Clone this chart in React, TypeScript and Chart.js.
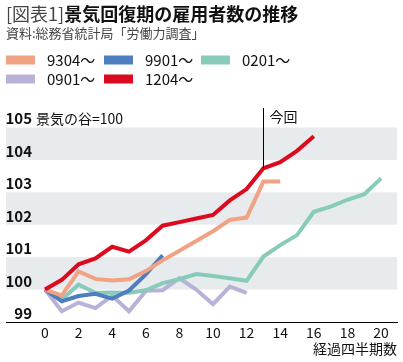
import React, { useEffect, useRef } from "react";
import { Chart, registerables } from "chart.js";

Chart.register(...registerables);

const seriesNames = ["9304〜", "9901〜", "0201〜", "0901〜", "1204〜"];
const seriesColors = ["#F0A282", "#4F7EC0", "#88CBBB", "#B8B2D8", "#DC0A1E"];

const s9304 = [100, 99.82, 100.56, 100.33, 100.28, 100.32, 100.57, 100.9, 101.2, 101.5, 101.8, 102.15, 102.22, 103.33, 103.33];
const s9901 = [100, 99.64, 99.8, 99.87, 99.72, 99.97, 100.47, 101.06];
const s0201 = [100, 99.7, 100.15, 99.9, 99.91, 99.9, 99.98, 100.2, 100.32, 100.48, 100.42, 100.35, 100.27, 101.02, 101.37, 101.68, 102.4, 102.56, 102.77, 102.94, 103.43];
const s0901 = [100, 99.33, 99.6, 99.43, 99.81, 99.33, 99.96, 99.98, 100.35, 100.0, 99.55, 100.09, 99.9];
const s1204 = [100, 100.3, 100.78, 100.96, 101.32, 101.17, 101.52, 101.97, 102.08, 102.19, 102.3, 102.75, 103.1, 103.74, 103.93, 104.28, 104.73];

const allSeries = [s9304, s9901, s0201, s0901, s1204];
const drawOrder = [1, 2, 3, 4, 0];

const xTicks = [0, 2, 4, 6, 8, 10, 12, 14, 16, 18, 20];
const yTicks = [99, 100, 101, 102, 103, 104, 105];
const bandRanges = [[100, 101], [102, 103], [104, 105]];
const markerQuarter = 13;

const titlePrefix = "[図表1]";
const titleMain = "景気回復期の雇用者数の推移";
const subtitle = "資料:総務省統計局「労働力調査」";
const yNote = "景気の谷=100";
const markerLabel = "今回";
const xTitle = "経過四半期数";

const FONT = '"Noto Sans CJK JP", "Noto Sans", sans-serif';

const decor = {
  id: "decor",
  beforeDatasetsDraw(chart: any) {
    const { ctx, chartArea, scales } = chart;
    const y = scales.y;
    ctx.save();
    ctx.fillStyle = "#E8EBEE";
    for (const [a, b] of bandRanges) {
      const y1 = y.getPixelForValue(b);
      const y2 = y.getPixelForValue(a);
      ctx.fillRect(chartArea.left, y1, chartArea.right - chartArea.left, y2 - y1);
    }
    ctx.restore();
  },
  afterDraw(chart: any) {
    const { ctx, chartArea, scales } = chart;
    const x = scales.x;
    const y = scales.y;
    ctx.save();
    // marker line
    const mx = x.getPixelForValue(markerQuarter);
    const my = y.getPixelForValue(s1204[markerQuarter]);
    ctx.strokeStyle = "#000";
    ctx.lineWidth = 1;
    ctx.beginPath();
    ctx.moveTo(Math.round(mx) + 0.5, chartArea.top);
    ctx.lineTo(Math.round(mx) + 0.5, my);
    ctx.stroke();
    ctx.fillStyle = "#111";
    ctx.font = `14px ${FONT}`;
    ctx.textBaseline = "middle";
    ctx.textAlign = "left";
    ctx.fillText(markerLabel, mx + 6, 117);

    // y labels
    ctx.textBaseline = "alphabetic";
    for (const v of yTicks) {
      const py = y.getPixelForValue(v);
      ctx.font = `bold 15px ${FONT}`;
      ctx.textAlign = "right";
      ctx.fillStyle = "#111";
      ctx.fillText(String(v), 32, py - 3);
      if (v === 105) {
        ctx.font = `14px ${FONT}`;
        ctx.textAlign = "left";
        ctx.fillText(yNote, 36, py - 3);
      }
    }

    // x title
    ctx.font = `14px ${FONT}`;
    ctx.textAlign = "right";
    ctx.textBaseline = "middle";
    ctx.fillStyle = "#111";
    ctx.fillText(xTitle, 397, 349);

    // title
    ctx.textAlign = "left";
    ctx.font = `18px ${FONT}`;
    ctx.fillStyle = "#444";
    ctx.fillText(titlePrefix, 6, 14);
    const w = ctx.measureText(titlePrefix).width;
    ctx.font = `bold 18px ${FONT}`;
    ctx.fillStyle = "#111";
    ctx.fillText(titleMain, 6 + w, 14);

    ctx.font = `13px ${FONT}`;
    ctx.fillStyle = "#444";
    ctx.fillText(subtitle, 6, 33);

    // legend
    const colX = [6, 104, 201];
    const rowY = [60, 79];
    chart.data.datasets.forEach((ds: any, i: number) => {
      const cx = colX[i % 3];
      const cy = rowY[Math.floor(i / 3)];
      ctx.fillStyle = ds.borderColor;
      ctx.fillRect(cx, cy - 4.5, 29, 9);
      ctx.fillStyle = "#111";
      ctx.font = `15px ${FONT}`;
      ctx.textBaseline = "middle";
      ctx.fillText(ds.label, cx + 41, cy);
    });
    ctx.restore();
  },
};

export default function App() {
  const ref = useRef<HTMLCanvasElement | null>(null);
  useEffect(() => {
    if (!ref.current) return;
    const chart = new Chart(ref.current, {
      type: "line",
      data: {
        datasets: allSeries.map((arr, i) => ({
          label: seriesNames[i],
          data: arr.map((v, q) => ({ x: q, y: v })),
          borderColor: seriesColors[i],
          backgroundColor: seriesColors[i],
          borderWidth: 4,
          pointRadius: 0,
          tension: 0,
          fill: false,
          order: drawOrder[i],
        })),
      },
      options: {
        animation: false,
        responsive: false,
        layout: { padding: { top: 108, left: 6, right: 6, bottom: 0 } },
        plugins: { legend: { display: false }, tooltip: { enabled: false }, title: { display: false } },
        scales: {
          x: {
            type: "linear",
            min: -2.32,
            max: 20.95,
            grid: { display: false, drawTicks: false },
            border: { display: true, color: "#000", width: 1 },
            afterBuildTicks: (scale: any) => {
              scale.ticks = xTicks.map((v) => ({ value: v }));
            },
            afterFit: (scale: any) => {
              scale.height = 40;
            },
            ticks: {
              color: "#111",
              font: { family: FONT, size: 14 },
              padding: 2,
              maxRotation: 0,
              autoSkip: false,
            },
          },
          y: {
            type: "linear",
            min: 99,
            max: 105.6,
            display: false,
          },
        },
      },
      plugins: [decor],
    });
    return () => chart.destroy();
  }, []);
  return (
    <div style={{ position: "fixed", left: 0, top: 0, width: 403, height: 362, background: "#fff" }}>
      <canvas ref={ref} width={403} height={362} style={{ display: "block" }} />
    </div>
  );
}
